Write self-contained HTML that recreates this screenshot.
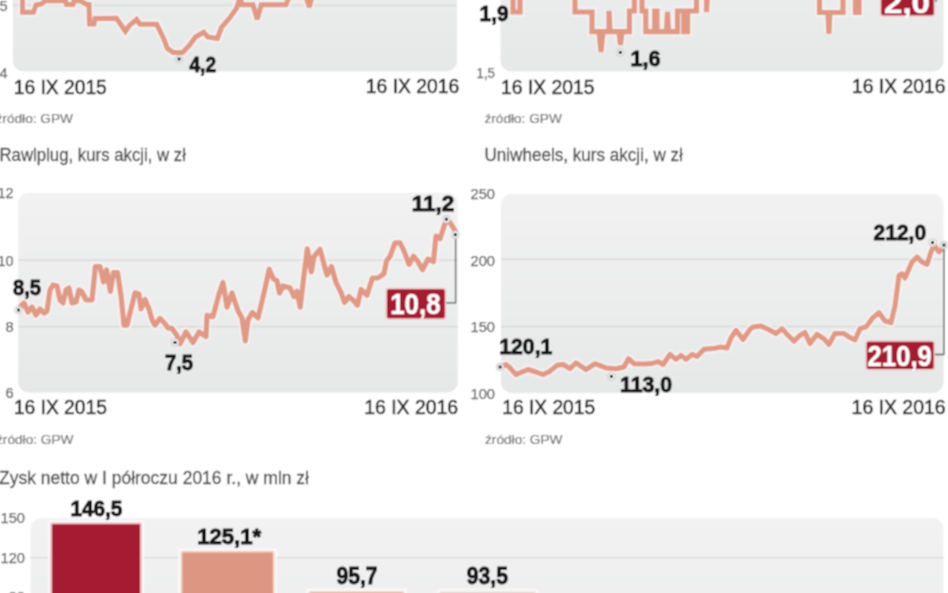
<!DOCTYPE html>
<html><head><meta charset="utf-8"><style>
html,body{margin:0;padding:0;background:#fff;width:948px;height:593px;overflow:hidden}
svg{display:block;position:absolute;left:-10px;top:-10px;font-family:"Liberation Sans",sans-serif}
</style></head><body>
<svg width="968" height="613" viewBox="-10 -10 968 613">
<filter id="fb" x="-10" y="-10" width="968" height="613" filterUnits="userSpaceOnUse"><feConvolveMatrix order="3" kernelMatrix="1 2 1 2 4 2 1 2 1" divisor="16" edgeMode="duplicate"/></filter>
<g filter="url(#fb)">
<rect x="-10" y="-10" width="968" height="613" fill="#fff"/>
<defs><linearGradient id="pg" x1="0" y1="0" x2="0" y2="1"><stop offset="0" stop-color="#f2f2f2"/><stop offset="1" stop-color="#e6e7e7"/></linearGradient><linearGradient id="bg" x1="0" y1="0" x2="0" y2="1"><stop offset="0" stop-color="#f1f2f1"/><stop offset="1" stop-color="#e9eaea"/></linearGradient></defs>
<rect x="12.8" y="-128" width="444.2" height="199.5" rx="11" fill="url(#pg)"/>
<rect x="500.5" y="-128" width="443" height="199.5" rx="11" fill="url(#pg)"/>
<rect x="18.2" y="192.7" width="439.5" height="199.8" rx="11" fill="url(#pg)"/>
<rect x="501" y="194" width="442.5" height="199" rx="11" fill="url(#pg)"/>
<rect x="30.6" y="518" width="912.8" height="200" rx="11" fill="url(#bg)"/>
<rect x="12.8" y="4.5" width="444.2" height="1.6" fill="#d9dada"/>
<rect x="18.2" y="259.4" width="439.5" height="1.6" fill="#d9dada"/>
<rect x="18.2" y="325.9" width="439.5" height="1.6" fill="#d9dada"/>
<rect x="501" y="258.5" width="442.5" height="1.6" fill="#d9dada"/>
<rect x="501" y="325.7" width="442.5" height="1.6" fill="#d9dada"/>
<rect x="30.6" y="557" width="912.8" height="1.6" fill="#dcdddc"/>
<path d="M22.5,-6.0 L22.5,12.2 L33.5,12.2 L36.0,5.0 L41.5,4.0 L45.0,0.8 L65.5,0.8 L66.5,4.5 L73.0,4.5 L74.0,0.8 L80.0,0.8 L87.0,4.5 L89.0,4.5 L89.5,24.0 L94.0,24.0 L95.0,18.5 L116.5,18.3 L125.4,31.3 L129.5,25.4 L136.6,19.5 L140.0,24.2 L156.7,24.2 L160.2,31.3 L163.8,39.0 L167.3,48.4 L173.2,52.5 L182.6,52.5 L189.7,44.9 L195.5,37.0 L203.7,32.2 L207.8,37.0 L217.4,38.4 L221.5,27.4 L229.8,17.8 L236.6,8.2 L240.0,-3.0 L242.0,4.8 L253.0,4.8 L257.2,19.2 L261.3,4.8 L286.0,4.8 L289.0,-3.0 L306.0,-3.0 L309.3,7.0 L312.0,-3.0 L330.0,-10.0" fill="none" stroke="#fbf5f2" stroke-opacity="0.65" stroke-width="9.2" stroke-linejoin="miter" stroke-miterlimit="3"/><path d="M22.5,-6.0 L22.5,12.2 L33.5,12.2 L36.0,5.0 L41.5,4.0 L45.0,0.8 L65.5,0.8 L66.5,4.5 L73.0,4.5 L74.0,0.8 L80.0,0.8 L87.0,4.5 L89.0,4.5 L89.5,24.0 L94.0,24.0 L95.0,18.5 L116.5,18.3 L125.4,31.3 L129.5,25.4 L136.6,19.5 L140.0,24.2 L156.7,24.2 L160.2,31.3 L163.8,39.0 L167.3,48.4 L173.2,52.5 L182.6,52.5 L189.7,44.9 L195.5,37.0 L203.7,32.2 L207.8,37.0 L217.4,38.4 L221.5,27.4 L229.8,17.8 L236.6,8.2 L240.0,-3.0 L242.0,4.8 L253.0,4.8 L257.2,19.2 L261.3,4.8 L286.0,4.8 L289.0,-3.0 L306.0,-3.0 L309.3,7.0 L312.0,-3.0 L330.0,-10.0" fill="none" stroke="#e09985" stroke-width="5.0" stroke-linejoin="miter" stroke-miterlimit="3"/>
<path d="M513.0,-6.0 L513.0,12.0 L520.0,12.0 L520.0,-6.0 L575.0,-6.0 L575.0,12.0 L592.0,12.0 L592.0,31.6 L599.0,31.6 L601.0,52.0 L603.0,31.6 L609.0,31.6 L609.0,11.0 L610.0,31.6 L619.0,31.6 L620.5,45.0 L622.0,31.6 L629.4,31.6 L629.4,11.0 L634.4,11.0 L634.4,-6.0 L642.0,-6.0 L642.0,11.0 L645.8,11.0 L645.8,31.6 L654.7,31.6 L654.7,11.0 L657.0,11.0 L657.0,31.6 L666.5,31.6 L667.5,12.0 L668.5,31.6 L677.5,31.6 L677.5,11.0 L683.8,11.0 L683.8,31.6 L687.6,31.6 L687.6,11.0 L696.5,11.0 L696.5,-6.0 L706.5,-6.0 L706.5,12.0 L707.5,-6.0 L819.5,-6.0 L819.5,12.5 L828.0,12.5 L828.9,33.6 L829.8,12.5 L843.0,12.5 L843.0,-6.0 L855.4,-6.0 L855.4,12.5 L859.0,12.5 L859.0,-6.0" fill="none" stroke="#fbf5f2" stroke-opacity="0.65" stroke-width="9.4" stroke-linejoin="miter" stroke-miterlimit="3"/><path d="M513.0,-6.0 L513.0,12.0 L520.0,12.0 L520.0,-6.0 L575.0,-6.0 L575.0,12.0 L592.0,12.0 L592.0,31.6 L599.0,31.6 L601.0,52.0 L603.0,31.6 L609.0,31.6 L609.0,11.0 L610.0,31.6 L619.0,31.6 L620.5,45.0 L622.0,31.6 L629.4,31.6 L629.4,11.0 L634.4,11.0 L634.4,-6.0 L642.0,-6.0 L642.0,11.0 L645.8,11.0 L645.8,31.6 L654.7,31.6 L654.7,11.0 L657.0,11.0 L657.0,31.6 L666.5,31.6 L667.5,12.0 L668.5,31.6 L677.5,31.6 L677.5,11.0 L683.8,11.0 L683.8,31.6 L687.6,31.6 L687.6,11.0 L696.5,11.0 L696.5,-6.0 L706.5,-6.0 L706.5,12.0 L707.5,-6.0 L819.5,-6.0 L819.5,12.5 L828.0,12.5 L828.9,33.6 L829.8,12.5 L843.0,12.5 L843.0,-6.0 L855.4,-6.0 L855.4,12.5 L859.0,12.5 L859.0,-6.0" fill="none" stroke="#e09985" stroke-width="5.2" stroke-linejoin="miter" stroke-miterlimit="3"/>
<path d="M18.5,310.0 L21.0,306.0 L24.0,303.0 L28.0,312.0 L32.0,307.0 L36.0,315.0 L40.0,309.0 L44.0,313.0 L47.0,311.0 L50.0,290.0 L53.0,285.0 L57.0,286.0 L60.0,300.0 L63.0,303.0 L66.0,290.0 L69.0,288.0 L72.0,303.0 L76.0,302.0 L79.0,290.0 L82.0,292.0 L86.0,300.0 L92.0,300.0 L95.4,266.5 L100.0,266.5 L103.5,282.0 L106.5,269.8 L110.4,291.4 L113.5,272.5 L117.5,272.5 L121.0,295.5 L124.0,325.2 L127.0,325.2 L131.0,309.0 L135.0,292.8 L139.0,294.0 L141.0,309.0 L145.0,299.5 L149.0,309.0 L152.0,319.8 L155.0,325.2 L160.0,318.4 L164.0,322.5 L168.0,327.9 L172.0,328.4 L177.0,335.5 L180.0,343.7 L186.0,332.0 L193.0,342.5 L199.0,332.0 L206.0,336.6 L207.0,315.4 L213.0,316.6 L219.0,294.2 L223.0,282.4 L227.0,307.1 L232.0,293.0 L238.0,310.7 L242.0,317.9 L245.3,340.9 L248.0,319.6 L252.4,312.6 L258.0,317.9 L264.0,293.0 L269.2,269.2 L273.5,279.0 L277.0,280.7 L279.5,293.1 L283.0,286.0 L290.0,287.8 L294.0,296.6 L297.0,291.3 L300.2,307.3 L303.5,279.0 L307.3,248.8 L311.3,271.9 L314.0,256.5 L320.0,249.3 L325.0,268.0 L327.0,275.1 L331.5,266.5 L336.0,282.3 L341.0,292.3 L344.5,302.4 L349.0,296.6 L354.0,301.0 L357.4,305.3 L361.0,289.5 L367.0,295.2 L372.4,278.0 L378.0,278.0 L384.0,273.7 L386.5,260.8 L390.0,256.3 L395.0,242.8 L400.0,242.8 L404.0,250.9 L409.0,264.4 L413.5,256.3 L418.0,261.7 L422.5,269.8 L428.0,259.0 L433.5,261.7 L436.0,236.0 L440.0,238.7 L444.4,225.2 L446.0,221.2 L450.0,222.5 L455.0,230.6 L455.5,234.0" fill="none" stroke="#fbf5f2" stroke-opacity="0.65" stroke-width="9.4" stroke-linejoin="round" stroke-miterlimit="3"/><path d="M18.5,310.0 L21.0,306.0 L24.0,303.0 L28.0,312.0 L32.0,307.0 L36.0,315.0 L40.0,309.0 L44.0,313.0 L47.0,311.0 L50.0,290.0 L53.0,285.0 L57.0,286.0 L60.0,300.0 L63.0,303.0 L66.0,290.0 L69.0,288.0 L72.0,303.0 L76.0,302.0 L79.0,290.0 L82.0,292.0 L86.0,300.0 L92.0,300.0 L95.4,266.5 L100.0,266.5 L103.5,282.0 L106.5,269.8 L110.4,291.4 L113.5,272.5 L117.5,272.5 L121.0,295.5 L124.0,325.2 L127.0,325.2 L131.0,309.0 L135.0,292.8 L139.0,294.0 L141.0,309.0 L145.0,299.5 L149.0,309.0 L152.0,319.8 L155.0,325.2 L160.0,318.4 L164.0,322.5 L168.0,327.9 L172.0,328.4 L177.0,335.5 L180.0,343.7 L186.0,332.0 L193.0,342.5 L199.0,332.0 L206.0,336.6 L207.0,315.4 L213.0,316.6 L219.0,294.2 L223.0,282.4 L227.0,307.1 L232.0,293.0 L238.0,310.7 L242.0,317.9 L245.3,340.9 L248.0,319.6 L252.4,312.6 L258.0,317.9 L264.0,293.0 L269.2,269.2 L273.5,279.0 L277.0,280.7 L279.5,293.1 L283.0,286.0 L290.0,287.8 L294.0,296.6 L297.0,291.3 L300.2,307.3 L303.5,279.0 L307.3,248.8 L311.3,271.9 L314.0,256.5 L320.0,249.3 L325.0,268.0 L327.0,275.1 L331.5,266.5 L336.0,282.3 L341.0,292.3 L344.5,302.4 L349.0,296.6 L354.0,301.0 L357.4,305.3 L361.0,289.5 L367.0,295.2 L372.4,278.0 L378.0,278.0 L384.0,273.7 L386.5,260.8 L390.0,256.3 L395.0,242.8 L400.0,242.8 L404.0,250.9 L409.0,264.4 L413.5,256.3 L418.0,261.7 L422.5,269.8 L428.0,259.0 L433.5,261.7 L436.0,236.0 L440.0,238.7 L444.4,225.2 L446.0,221.2 L450.0,222.5 L455.0,230.6 L455.5,234.0" fill="none" stroke="#e09985" stroke-width="5.2" stroke-linejoin="round" stroke-miterlimit="3"/>
<path d="M500.1,367.0 L506.0,364.5 L510.0,367.8 L516.0,374.6 L522.0,372.0 L528.0,369.5 L536.0,372.0 L543.0,374.6 L550.0,371.2 L557.0,365.3 L563.0,364.5 L570.0,368.7 L576.0,362.8 L586.0,369.6 L595.0,363.7 L606.0,367.9 L616.0,368.8 L624.0,367.0 L628.5,358.6 L634.0,363.7 L645.0,364.0 L652.0,363.5 L658.0,361.5 L663.0,364.5 L670.0,354.4 L676.0,359.4 L681.0,355.4 L686.0,359.4 L692.0,354.4 L697.0,356.4 L704.0,349.3 L715.0,348.3 L720.0,347.1 L727.0,348.0 L731.0,337.8 L736.0,330.3 L743.0,339.5 L750.0,329.4 L753.0,326.9 L761.0,326.0 L770.0,330.3 L776.0,333.6 L782.0,328.6 L788.0,335.3 L794.0,341.2 L800.0,335.3 L805.0,332.4 L810.0,343.6 L817.0,334.3 L824.0,338.9 L829.0,344.5 L835.0,333.4 L844.0,333.4 L849.0,337.1 L855.0,339.9 L860.0,328.7 L866.0,326.9 L873.0,317.6 L879.0,312.6 L885.0,321.0 L891.0,322.7 L895.0,305.8 L899.0,275.5 L902.0,273.8 L905.0,278.0 L912.0,262.0 L917.0,256.9 L922.0,262.0 L927.0,264.5 L931.0,251.9 L934.0,245.1 L939.0,251.9 L944.0,246.8" fill="none" stroke="#fbf5f2" stroke-opacity="0.65" stroke-width="9.2" stroke-linejoin="round" stroke-miterlimit="3"/><path d="M500.1,367.0 L506.0,364.5 L510.0,367.8 L516.0,374.6 L522.0,372.0 L528.0,369.5 L536.0,372.0 L543.0,374.6 L550.0,371.2 L557.0,365.3 L563.0,364.5 L570.0,368.7 L576.0,362.8 L586.0,369.6 L595.0,363.7 L606.0,367.9 L616.0,368.8 L624.0,367.0 L628.5,358.6 L634.0,363.7 L645.0,364.0 L652.0,363.5 L658.0,361.5 L663.0,364.5 L670.0,354.4 L676.0,359.4 L681.0,355.4 L686.0,359.4 L692.0,354.4 L697.0,356.4 L704.0,349.3 L715.0,348.3 L720.0,347.1 L727.0,348.0 L731.0,337.8 L736.0,330.3 L743.0,339.5 L750.0,329.4 L753.0,326.9 L761.0,326.0 L770.0,330.3 L776.0,333.6 L782.0,328.6 L788.0,335.3 L794.0,341.2 L800.0,335.3 L805.0,332.4 L810.0,343.6 L817.0,334.3 L824.0,338.9 L829.0,344.5 L835.0,333.4 L844.0,333.4 L849.0,337.1 L855.0,339.9 L860.0,328.7 L866.0,326.9 L873.0,317.6 L879.0,312.6 L885.0,321.0 L891.0,322.7 L895.0,305.8 L899.0,275.5 L902.0,273.8 L905.0,278.0 L912.0,262.0 L917.0,256.9 L922.0,262.0 L927.0,264.5 L931.0,251.9 L934.0,245.1 L939.0,251.9 L944.0,246.8" fill="none" stroke="#e09985" stroke-width="5.0" stroke-linejoin="round" stroke-miterlimit="3"/>
<path d="M455.6,235 V302.8 H445.5" fill="none" stroke="#555" stroke-width="1.3"/>
<path d="M944,245 V354.5 H934.3" fill="none" stroke="#555" stroke-width="1.3"/>
<path d="M936,-5 V2" fill="none" stroke="#555" stroke-width="1.3"/>
<circle cx="179.1" cy="59.0" r="3.8" fill="#f6f6f6" stroke="#c8c8c8" stroke-width="1"/><rect x="177.6" y="57.5" width="3" height="3" fill="#222"/>
<circle cx="620.3" cy="52.4" r="3.8" fill="#f6f6f6" stroke="#c8c8c8" stroke-width="1"/><rect x="618.8" y="50.9" width="3" height="3" fill="#222"/>
<circle cx="18.5" cy="310.0" r="3.8" fill="#f6f6f6" stroke="#c8c8c8" stroke-width="1"/><rect x="17.0" y="308.5" width="3" height="3" fill="#222"/>
<circle cx="175.0" cy="342.5" r="3.8" fill="#f6f6f6" stroke="#c8c8c8" stroke-width="1"/><rect x="173.5" y="341.0" width="3" height="3" fill="#222"/>
<circle cx="446.4" cy="219.2" r="3.8" fill="#f6f6f6" stroke="#c8c8c8" stroke-width="1"/><rect x="444.9" y="217.7" width="3" height="3" fill="#222"/>
<circle cx="455.3" cy="234.7" r="3.8" fill="#f6f6f6" stroke="#c8c8c8" stroke-width="1"/><rect x="453.8" y="233.2" width="3" height="3" fill="#222"/>
<circle cx="500.1" cy="367.0" r="3.8" fill="#f6f6f6" stroke="#c8c8c8" stroke-width="1"/><rect x="498.6" y="365.5" width="3" height="3" fill="#222"/>
<circle cx="611.4" cy="376.4" r="3.8" fill="#f6f6f6" stroke="#c8c8c8" stroke-width="1"/><rect x="609.9" y="374.9" width="3" height="3" fill="#222"/>
<circle cx="932.5" cy="242.6" r="3.8" fill="#f6f6f6" stroke="#c8c8c8" stroke-width="1"/><rect x="931.0" y="241.1" width="3" height="3" fill="#222"/>
<circle cx="944.0" cy="245.1" r="3.8" fill="#f6f6f6" stroke="#c8c8c8" stroke-width="1"/><rect x="942.5" y="243.6" width="3" height="3" fill="#222"/>
<rect x="880.5" y="-20" width="54" height="36" rx="2.5" fill="#a51c30" stroke="#f2c9c9" stroke-width="1.5"/>
<rect x="386.2" y="288.5" width="59.3" height="30.4" rx="2.5" fill="#a51c30" stroke="#f2c9c9" stroke-width="1.5"/>
<rect x="866" y="341" width="68.3" height="28.8" rx="2.5" fill="#a51c30" stroke="#f2c9c9" stroke-width="1.5"/>
<text x="390.2" y="313.7" font-size="29.0" font-weight="bold" fill="#fff" stroke="#fff" stroke-width="0.35" textLength="50.5" lengthAdjust="spacingAndGlyphs">10,8</text>
<text x="867.6" y="365.6" font-size="29.0" font-weight="bold" fill="#fff" stroke="#fff" stroke-width="0.35" textLength="64.2" lengthAdjust="spacingAndGlyphs">210,9</text>
<text x="884.0" y="12.5" font-size="29.0" font-weight="bold" fill="#fff" stroke="#fff" stroke-width="0.35" textLength="46.0" lengthAdjust="spacingAndGlyphs">2,0</text>
<rect x="47.8" y="520.0" width="96.5" height="105.0" rx="3" fill="#fbfbfb" fill-opacity="0.75"/><rect x="50.3" y="522.5" width="91.5" height="100.0" rx="1.5" fill="#eeb9bd"/><rect x="52.1" y="524.3" width="87.9" height="100.0" rx="1" fill="#a51c30"/>
<rect x="178.1" y="548.3" width="99.0" height="105.0" rx="3" fill="#fbfbfb" fill-opacity="0.75"/><rect x="180.6" y="550.8" width="94.0" height="100.0" rx="1.5" fill="#f6d3c6"/><rect x="182.4" y="552.6" width="90.4" height="100.0" rx="1" fill="#dd9681"/>
<rect x="306.0" y="588.5" width="101.0" height="105.0" rx="3" fill="#fbfbfb" fill-opacity="0.75"/><rect x="308.5" y="591.0" width="96.0" height="100.0" rx="1.5" fill="#f6d6ca"/><rect x="310.3" y="592.8" width="92.4" height="100.0" rx="1" fill="#e0a08c"/>
<rect x="436.5" y="588.7" width="102.0" height="105.0" rx="3" fill="#fbfbfb" fill-opacity="0.75"/><rect x="439.0" y="591.2" width="97.0" height="100.0" rx="1.5" fill="#efe2dc"/><rect x="440.8" y="593.0" width="93.4" height="100.0" rx="1" fill="#d8c4ba"/>
<text x="189.5" y="71.7" font-size="21.7" font-weight="bold" fill="#161616" stroke="#161616" stroke-width="0.95" textLength="26.5" lengthAdjust="spacingAndGlyphs">4,2</text>
<text x="479.6" y="21.1" font-size="22.2" font-weight="bold" fill="#161616" stroke="#161616" stroke-width="0.95" textLength="29.0" lengthAdjust="spacingAndGlyphs">1,9</text>
<text x="630.5" y="65.6" font-size="21.7" font-weight="bold" fill="#161616" stroke="#161616" stroke-width="0.95" textLength="30.0" lengthAdjust="spacingAndGlyphs">1,6</text>
<text x="13.0" y="295.4" font-size="21.7" font-weight="bold" fill="#161616" stroke="#161616" stroke-width="0.95" textLength="28.0" lengthAdjust="spacingAndGlyphs">8,5</text>
<text x="165.0" y="370.2" font-size="22.2" font-weight="bold" fill="#161616" stroke="#161616" stroke-width="0.95" textLength="28.0" lengthAdjust="spacingAndGlyphs">7,5</text>
<text x="411.8" y="211.2" font-size="21.7" font-weight="bold" fill="#161616" stroke="#161616" stroke-width="0.95" textLength="42.5" lengthAdjust="spacingAndGlyphs">11,2</text>
<text x="499.3" y="354.1" font-size="22.7" font-weight="bold" fill="#161616" stroke="#161616" stroke-width="0.95" textLength="53.0" lengthAdjust="spacingAndGlyphs">120,1</text>
<text x="620.0" y="392.3" font-size="21.7" font-weight="bold" fill="#161616" stroke="#161616" stroke-width="0.95" textLength="52.0" lengthAdjust="spacingAndGlyphs">113,0</text>
<text x="873.6" y="240.0" font-size="22.2" font-weight="bold" fill="#161616" stroke="#161616" stroke-width="0.95" textLength="52.5" lengthAdjust="spacingAndGlyphs">212,0</text>
<text x="70.4" y="515.6" font-size="21.2" font-weight="bold" fill="#161616" stroke="#161616" stroke-width="0.95" textLength="52.0" lengthAdjust="spacingAndGlyphs">146,5</text>
<text x="197.2" y="543.6" font-size="21.7" font-weight="bold" fill="#161616" stroke="#161616" stroke-width="0.95" textLength="64.0" lengthAdjust="spacingAndGlyphs">125,1*</text>
<text x="336.4" y="583.9" font-size="24.2" font-weight="bold" fill="#161616" stroke="#161616" stroke-width="0.95" textLength="41.2" lengthAdjust="spacingAndGlyphs">95,7</text>
<text x="466.8" y="583.9" font-size="24.2" font-weight="bold" fill="#161616" stroke="#161616" stroke-width="0.95" textLength="41.2" lengthAdjust="spacingAndGlyphs">93,5</text>
<text x="13.8" y="93.5" font-size="19.3" font-weight="normal" fill="#2c2c2c" stroke="#2c2c2c" stroke-width="0.55" textLength="93.0" lengthAdjust="spacingAndGlyphs">16 IX 2015</text>
<text x="365.8" y="93.4" font-size="19.3" font-weight="normal" fill="#2c2c2c" stroke="#2c2c2c" stroke-width="0.55" textLength="93.5" lengthAdjust="spacingAndGlyphs">16 IX 2016</text>
<text x="501.1" y="93.5" font-size="19.3" font-weight="normal" fill="#2c2c2c" stroke="#2c2c2c" stroke-width="0.55" textLength="93.5" lengthAdjust="spacingAndGlyphs">16 IX 2015</text>
<text x="852.0" y="93.1" font-size="19.3" font-weight="normal" fill="#2c2c2c" stroke="#2c2c2c" stroke-width="0.55" textLength="93.5" lengthAdjust="spacingAndGlyphs">16 IX 2016</text>
<text x="13.9" y="414.1" font-size="19.3" font-weight="normal" fill="#2c2c2c" stroke="#2c2c2c" stroke-width="0.55" textLength="93.0" lengthAdjust="spacingAndGlyphs">16 IX 2015</text>
<text x="364.2" y="414.1" font-size="19.3" font-weight="normal" fill="#2c2c2c" stroke="#2c2c2c" stroke-width="0.55" textLength="94.0" lengthAdjust="spacingAndGlyphs">16 IX 2016</text>
<text x="502.2" y="414.1" font-size="19.3" font-weight="normal" fill="#2c2c2c" stroke="#2c2c2c" stroke-width="0.55" textLength="93.0" lengthAdjust="spacingAndGlyphs">16 IX 2015</text>
<text x="851.6" y="414.1" font-size="19.3" font-weight="normal" fill="#2c2c2c" stroke="#2c2c2c" stroke-width="0.55" textLength="94.0" lengthAdjust="spacingAndGlyphs">16 IX 2016</text>
<text x="-4.5" y="122.5" font-size="13.5" font-weight="normal" fill="#707070" stroke="#707070" stroke-width="0.20" textLength="77.5" lengthAdjust="spacingAndGlyphs">źródło: GPW</text>
<text x="484.4" y="122.5" font-size="13.5" font-weight="normal" fill="#707070" stroke="#707070" stroke-width="0.20" textLength="77.5" lengthAdjust="spacingAndGlyphs">źródło: GPW</text>
<text x="-4.0" y="444.0" font-size="13.5" font-weight="normal" fill="#707070" stroke="#707070" stroke-width="0.20" textLength="77.5" lengthAdjust="spacingAndGlyphs">źródło: GPW</text>
<text x="485.0" y="444.0" font-size="13.5" font-weight="normal" fill="#707070" stroke="#707070" stroke-width="0.20" textLength="77.5" lengthAdjust="spacingAndGlyphs">źródło: GPW</text>
<text x="-0.5" y="160.7" font-size="17.8" font-weight="normal" fill="#4c4c4c" stroke="#4c4c4c" stroke-width="0.30" textLength="186.5" lengthAdjust="spacingAndGlyphs">Rawlplug, kurs akcji, w zł</text>
<text x="484.4" y="160.9" font-size="17.8" font-weight="normal" fill="#4c4c4c" stroke="#4c4c4c" stroke-width="0.30" textLength="198.5" lengthAdjust="spacingAndGlyphs">Uniwheels, kurs akcji, w zł</text>
<text x="-1.0" y="483.6" font-size="17.8" font-weight="normal" fill="#4c4c4c" stroke="#4c4c4c" stroke-width="0.30" textLength="310.0" lengthAdjust="spacingAndGlyphs">Zysk netto w I półroczu 2016 r., w mln zł</text>
<text x="7.6" y="11.3" font-size="14.6" fill="#606060" stroke="#606060" stroke-width="0.25" text-anchor="end" textLength="8.2" lengthAdjust="spacingAndGlyphs">5</text>
<text x="7.6" y="77.8" font-size="14.6" fill="#606060" stroke="#606060" stroke-width="0.25" text-anchor="end" textLength="8.2" lengthAdjust="spacingAndGlyphs">4</text>
<text x="495.0" y="77.5" font-size="14.6" fill="#606060" stroke="#606060" stroke-width="0.25" text-anchor="end" textLength="18.5" lengthAdjust="spacingAndGlyphs">1,5</text>
<text x="13.6" y="198.3" font-size="14.6" fill="#606060" stroke="#606060" stroke-width="0.25" text-anchor="end" textLength="16.0" lengthAdjust="spacingAndGlyphs">12</text>
<text x="13.6" y="265.6" font-size="14.6" fill="#606060" stroke="#606060" stroke-width="0.25" text-anchor="end" textLength="16.0" lengthAdjust="spacingAndGlyphs">10</text>
<text x="13.6" y="332.0" font-size="14.6" fill="#606060" stroke="#606060" stroke-width="0.25" text-anchor="end" textLength="8.2" lengthAdjust="spacingAndGlyphs">8</text>
<text x="13.6" y="398.4" font-size="14.6" fill="#606060" stroke="#606060" stroke-width="0.25" text-anchor="end" textLength="8.2" lengthAdjust="spacingAndGlyphs">6</text>
<text x="495.0" y="198.9" font-size="14.6" fill="#606060" stroke="#606060" stroke-width="0.25" text-anchor="end" textLength="24.5" lengthAdjust="spacingAndGlyphs">250</text>
<text x="495.0" y="265.6" font-size="14.6" fill="#606060" stroke="#606060" stroke-width="0.25" text-anchor="end" textLength="24.5" lengthAdjust="spacingAndGlyphs">200</text>
<text x="495.0" y="331.7" font-size="14.6" fill="#606060" stroke="#606060" stroke-width="0.25" text-anchor="end" textLength="24.5" lengthAdjust="spacingAndGlyphs">150</text>
<text x="495.0" y="399.0" font-size="14.6" fill="#606060" stroke="#606060" stroke-width="0.25" text-anchor="end" textLength="24.5" lengthAdjust="spacingAndGlyphs">100</text>
<text x="25.0" y="522.9" font-size="14.6" fill="#606060" stroke="#606060" stroke-width="0.25" text-anchor="end" textLength="24.5" lengthAdjust="spacingAndGlyphs">150</text>
<text x="25.0" y="562.9" font-size="14.6" fill="#606060" stroke="#606060" stroke-width="0.25" text-anchor="end" textLength="24.5" lengthAdjust="spacingAndGlyphs">120</text>
<text x="25.0" y="601.8" font-size="14.6" fill="#606060" stroke="#606060" stroke-width="0.25" text-anchor="end" textLength="16.3" lengthAdjust="spacingAndGlyphs">90</text>
</g>
</svg>
</body></html>
